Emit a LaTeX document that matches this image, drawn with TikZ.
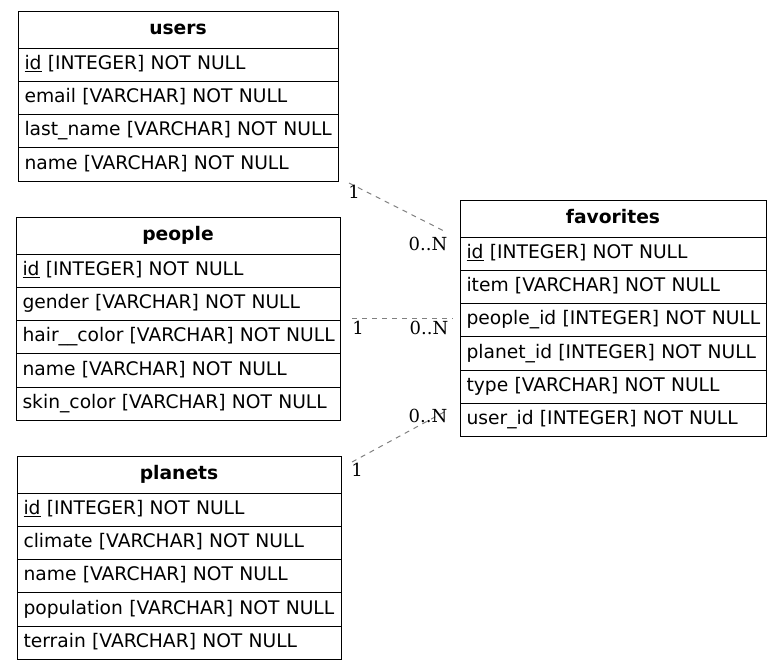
\documentclass[tikz,border=0pt]{standalone}
\usepackage{fontspec}
\newfontfamily\tblfont{DejaVu Sans}
\newfontfamily\lblfont{DejaVu Serif}
\usetikzlibrary{positioning}
\tikzset{
	tblhead/.style={draw, line width=1pt, outer sep=0pt, minimum height=37pt, inner xsep=6.5pt, inner ysep=0pt,
		text width=#1, align=center, text height=13pt, text depth=4pt, font=\tblfont\bfseries\fontsize{18.7}{22}\selectfont},
	tblrow/.style={draw, line width=1pt, outer sep=0pt, minimum height=33.3pt, inner xsep=6.5pt, inner ysep=0pt,
		text width=#1, align=left, text height=13pt, text depth=4pt, font=\tblfont\fontsize{18.7}{22}\selectfont},
	rel/.style={gray, line width=1pt, dash pattern=on 5pt off 5pt},
	card/.style={font=\lblfont\fontsize{18}{20}\selectfont, inner sep=0pt},
}
\begin{document}
\begin{tikzpicture}[x=1pt, y=-1pt]
		\useasboundingbox (0,0) rectangle (783,670);

		% users
		\node[tblhead=307pt, anchor=north west] (users-0) at (18,11) {users};
		\foreach \f [count=\i, evaluate=\i as \j using int(\i-1)] in
			{{\underline{id} [INTEGER] NOT NULL}, {email [VARCHAR] NOT NULL},
			 {last\_name [VARCHAR] NOT NULL}, {name [VARCHAR] NOT NULL}}
			\node[tblrow=307pt, below=0pt of users-\j] (users-\i) {\mbox{\f}};

		% people
		\node[tblhead=311pt, anchor=north west] (people-0) at (16,217) {people};
		\foreach \f [count=\i, evaluate=\i as \j using int(\i-1)] in
			{{\underline{id} [INTEGER] NOT NULL}, {gender [VARCHAR] NOT NULL},
			 {hair\_\_color [VARCHAR] NOT NULL}, {name [VARCHAR] NOT NULL},
			 {skin\_color [VARCHAR] NOT NULL}}
			\node[tblrow=311pt, below=0pt of people-\j] (people-\i) {\mbox{\f}};

		% planets
		\node[tblhead=311pt, anchor=north west] (planets-0) at (17,456) {planets};
		\foreach \f [count=\i, evaluate=\i as \j using int(\i-1)] in
			{{\underline{id} [INTEGER] NOT NULL}, {climate [VARCHAR] NOT NULL},
			 {name [VARCHAR] NOT NULL}, {population [VARCHAR] NOT NULL},
			 {terrain [VARCHAR] NOT NULL}}
			\node[tblrow=311pt, below=0pt of planets-\j] (planets-\i) {\mbox{\f}};

		% favorites
		\node[tblhead=293pt, anchor=north west] (fav-0) at (460,200) {favorites};
		\foreach \f [count=\i, evaluate=\i as \j using int(\i-1)] in
			{{\underline{id} [INTEGER] NOT NULL}, {item [VARCHAR] NOT NULL},
			 {people\_id [INTEGER] NOT NULL}, {planet\_id [INTEGER] NOT NULL},
			 {type [VARCHAR] NOT NULL}, {user\_id [INTEGER] NOT NULL}}
			\node[tblrow=293pt, below=0pt of fav-\j] (fav-\i) {\mbox{\f}};

		% relations
		\coordinate (users-fk)   at (349,183);
		\coordinate (fav-user)   at (446,232);
		\coordinate (people-fk)  at (352,318);
		\coordinate (fav-people) at (453,318);
		\coordinate (planets-fk) at (352,462);
		\coordinate (fav-planet) at (446,411);

		\draw[rel] (users-fk) -- (fav-user);
		\draw[rel] (people-fk) -- (fav-people);
		\draw[rel] (planets-fk) -- (fav-planet);

		\node[card] (users-one)   at (354,191.5) {1};
		\node[card] (users-many)  at (428,244)   {0..N};
		\node[card] (people-one)  at (358,328)   {1};
		\node[card] (people-many) at (429,328)   {0..N};
		\node[card] (planets-many) at (428,416)  {0..N};
		\node[card] (planets-one) at (357,470)   {1};
	\end{tikzpicture}
\end{document}
